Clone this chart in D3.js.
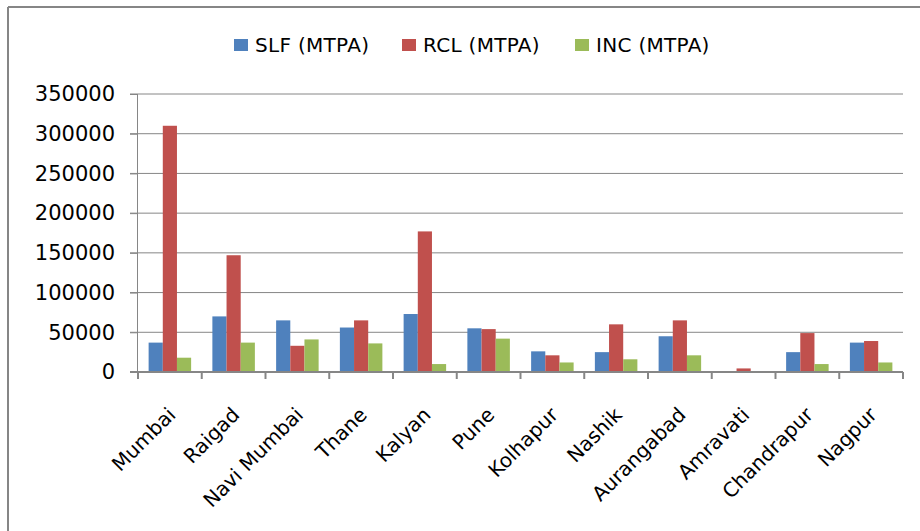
<!DOCTYPE html>
<html>
<head>
<meta charset="utf-8">
<script src="https://cdn.jsdelivr.net/npm/d3@7"></script>
<style>
  html, body { margin: 0; padding: 0; background: #fff; }
  svg { display: block; }
  text { font-family: "DejaVu Sans", sans-serif; fill: #000; }
</style>
</head>
<body>
<svg id="chart" width="920" height="531"></svg>
<script>
const categories = ["Mumbai", "Raigad", "Navi Mumbai", "Thane", "Kalyan", "Pune", "Kolhapur", "Nashik", "Aurangabad", "Amravati", "Chandrapur", "Nagpur"];
const seriesNames = ["SLF (MTPA)", "RCL (MTPA)", "INC (MTPA)"];
const slf = [37000, 70000, 65000, 56000, 73000, 55000, 26000, 25000, 45000, 0, 25000, 37000];
const rcl = [310000, 147000, 33000, 65000, 177000, 54000, 21000, 60000, 65000, 4500, 49000, 39000];
const inc = [18000, 37000, 41000, 36000, 10000, 42000, 12000, 16000, 21000, 0, 10000, 12000];
const yTicks = [0, 50000, 100000, 150000, 200000, 250000, 300000, 350000];
const colors = ["#4F81BD", "#C0504D", "#9BBB59"];

(function () {
const seriesValues = [slf, rcl, inc];
const svg = d3.select("#chart");
const grid = "#868686";

// outer border (left and top visible)
svg.append("line").attr("x1", 8).attr("x2", 8).attr("y1", 7).attr("y2", 531)
  .attr("stroke", grid).attr("stroke-width", 2);
svg.append("line").attr("x1", 8).attr("x2", 920).attr("y1", 7).attr("y2", 7)
  .attr("stroke", grid).attr("stroke-width", 2);

const pLeft = 138, pRight = 903, pTop = 94, pBottom = 372;
const x0 = d3.scaleBand().domain(categories).range([pLeft, pRight]).padding(0);
const x1 = d3.scaleBand().domain(seriesNames).range([0, x0.bandwidth()]).paddingInner(0).paddingOuter(0.75);
const y = d3.scaleLinear().domain([0, 350000]).range([pBottom, pTop]);

// gridlines
svg.append("g").selectAll("line").data(yTicks.filter(d => d > 0)).join("line")
  .attr("x1", pLeft - 8).attr("x2", pRight)
  .attr("y1", d => y(d)).attr("y2", d => y(d))
  .attr("stroke", grid).attr("stroke-width", 1);

// y axis
const yAxis = svg.append("g").attr("transform", `translate(${pLeft},0)`)
  .call(d3.axisLeft(y).tickValues(yTicks).tickFormat(d3.format("d")).tickSize(8).tickPadding(15));
yAxis.select(".domain").attr("stroke", grid).attr("d", `M-0.5,${pTop}V${pBottom}`);
yAxis.selectAll(".tick line").attr("stroke", grid);
yAxis.selectAll("text").attr("font-size", 21).attr("font-family", "DejaVu Sans").attr("fill", "#000");

// bars
const groups = svg.append("g").selectAll("g").data(categories).join("g")
  .attr("transform", d => `translate(${x0(d)},0)`);
groups.selectAll("rect").data((c, i) => seriesNames.map((s, k) => ({ s, k, v: seriesValues[k][i] }))).join("rect")
  .attr("x", d => x1(d.s))
  .attr("width", x1.bandwidth())
  .attr("y", d => y(d.v))
  .attr("height", d => pBottom - y(d.v))
  .attr("fill", d => colors[d.k]);

// x axis
const xAxis = svg.append("g").attr("transform", `translate(0,${pBottom})`);
xAxis.append("line").attr("x1", pLeft - 8).attr("x2", pRight).attr("y1", 0).attr("y2", 0)
  .attr("stroke", grid).attr("stroke-width", 2);
const boundaries = categories.map(c => x0(c)).concat([pRight]);
xAxis.selectAll("line.tk").data(boundaries).join("line").attr("class", "tk")
  .attr("x1", d => d).attr("x2", d => d).attr("y1", 0).attr("y2", 7)
  .attr("stroke", grid).attr("stroke-width", 2);
xAxis.selectAll("text").data(categories).join("text")
  .attr("transform", d => `translate(${x0(d) + x0.bandwidth() / 2 + 7},44) rotate(-45)`)
  .attr("text-anchor", "end")
  .attr("font-size", 20)
  .text(d => d);

// legend
const legendX = [234, 402, 575];
const legend = svg.append("g").selectAll("g").data(seriesNames).join("g")
  .attr("transform", (d, i) => `translate(${legendX[i]},0)`);
legend.append("rect").attr("x", 0).attr("y", 39).attr("width", 14).attr("height", 12)
  .attr("fill", (d, i) => colors[i]);
legend.append("text").attr("x", 21).attr("y", 52).attr("font-size", 20).attr("letter-spacing", 0.3).text(d => d);
})();
</script>
</body>
</html>
